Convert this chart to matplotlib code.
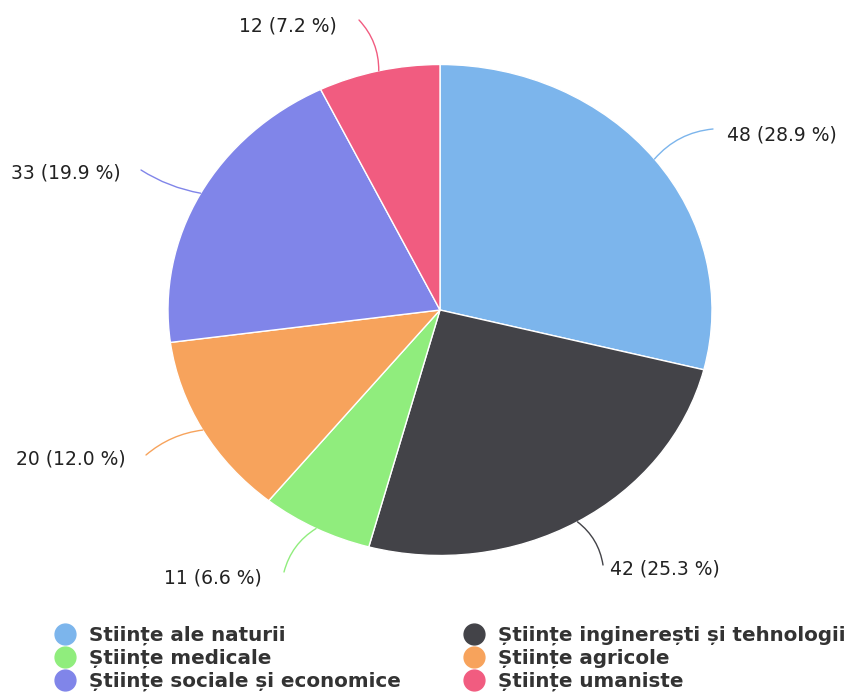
import numpy as np
import matplotlib
matplotlib.use('Agg')
from matplotlib import pyplot as plt
from matplotlib.lines import Line2D

# date
categorii = ['Stiințe ale naturii', 'Științe inginerești și tehnologii', 'Științe medicale',
             'Științe agricole', 'Științe sociale și economice', 'Științe umaniste']
valori = [48, 42, 11, 20, 33, 12]
culori = ['#7cb5ec', '#434348', '#90ed7d', '#f7a35c', '#8085e9', '#f15c80']

# pozitii etichete (pixeli in imagine): capatul liniei, textul, aliniere
capete = [(713, 129), (603, 565), (284, 572), (146, 455), (141, 170), (359, 20)]
texte = [(727, 135), (610, 569), (262, 578), (126, 459), (121, 173), (337, 26)]
aliniere = ['left', 'left', 'right', 'right', 'right', 'right']
# unghi de pornire al liniei (None = mijlocul feliei)
unghi_start = [None, None, None, None, 151.6, None]
curbura = [0.2, 0.2, -0.2, -0.15, 0.1, -0.2]

W, H = 859, 700
cx, cy, rx, ry = 440, 310, 272, 245.5


def px2d(x, y):
    return (x - cx) / rx, (cy - y) / ry


plt.rcParams['font.family'] = ['DejaVu Sans']
fig = plt.figure(figsize=(W / 100, H / 100), dpi=100)
ax = fig.add_axes([(cx - rx) / W, (H - cy - ry) / H, 2 * rx / W, 2 * ry / H])
wedges, _ = ax.pie(valori, colors=culori, startangle=90, counterclock=False,
                   wedgeprops=dict(edgecolor='white', linewidth=1))
ax.set_aspect('auto')
ax.set_xlim(-1, 1)
ax.set_ylim(-1, 1)
ax.axis('off')

total = sum(valori)
for i, w in enumerate(wedges):
    u = unghi_start[i] if unghi_start[i] is not None else (w.theta1 + w.theta2) / 2
    u = np.deg2rad(u)
    start = (np.cos(u), np.sin(u))
    end = px2d(*capete[i])
    ax.annotate('', xy=start, xytext=end,
                arrowprops=dict(arrowstyle='-', color=culori[i], lw=1,
                                connectionstyle='arc3,rad=%s' % curbura[i],
                                shrinkA=0, shrinkB=0),
                annotation_clip=False)
    tx, ty = px2d(*texte[i])
    ax.text(tx, ty, '%d (%.1f %%)' % (valori[i], valori[i] / total * 100),
            ha=aliniere[i], va='center', fontsize=13.5, color='#222222', clip_on=False)

# legenda: randuri ca in original
ordine = [0, 2, 4, 1, 3, 5]
handles = [Line2D([], [], marker='o', linestyle='', markersize=15,
                  markerfacecolor=culori[k], markeredgecolor=culori[k]) for k in ordine]
labels = [categorii[k] for k in ordine]
leg = fig.legend(handles, labels, ncol=2, loc='upper left', bbox_to_anchor=(45 / W, 1 - 618 / H),
                 frameon=False, prop=dict(weight='bold', size=14.3), labelspacing=0.17,
                 handletextpad=0.6, columnspacing=3.1, handlelength=1.2, borderaxespad=0,
                 borderpad=0.4)
for t in leg.get_texts():
    t.set_color('#333333')

fig.savefig('out.png', dpi=100)
